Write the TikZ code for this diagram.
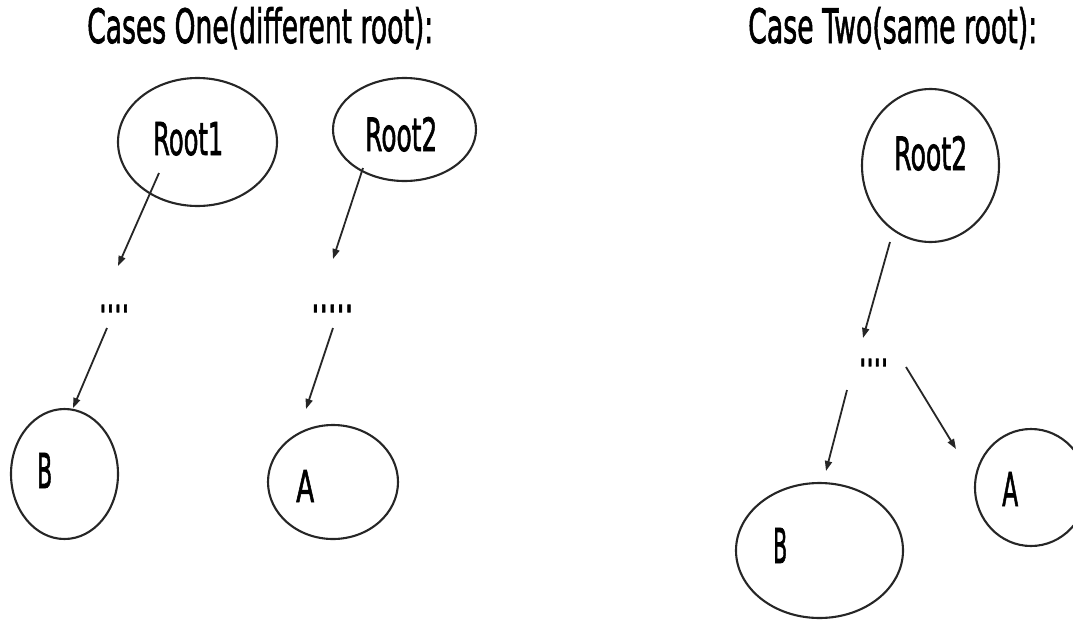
\documentclass[tikz,border=0pt]{standalone}
\usepackage{fontspec}
\usepackage{graphicx}
\usetikzlibrary{shapes.geometric,arrows.meta}
\newfontfamily\dejavu[FakeBold=1.8]{DejaVu Sans}
% squeeze a piece of text into a box of given width and height (above baseline)
\newcommand{\fitto}[3]{\resizebox{#1pt}{#2pt}{\dejavu #3}}
\tikzset{
  bubble/.style={draw=black!85, line width=2.1pt, ellipse, inner sep=0pt},
  arr/.style={draw=black!85, line width=1.8pt, -{Triangle[length=10pt,width=7pt]}},
  lbl/.style={anchor=base west, inner sep=0pt, text=black},
}
\begin{document}
\begin{tikzpicture}[x=1pt, y=-1pt]
\useasboundingbox (0,0) rectangle (1073,621);
\begin{scope}
\clip (0,0) rectangle (1073,621);

% headings
\node[lbl] (title1) at (87,43) {\fitto{346}{36}{Cases One(different root):}};
\node[lbl] (title2) at (748,43) {\fitto{289}{36}{Case Two(same root):}};

% case one: two separate trees
\node[bubble, minimum width=159pt, minimum height=128pt] (root1) at (197.5,142) {};
\node[bubble, minimum width=143pt, minimum height=103pt] (root2a) at (404.5,129.5) {};
\node[bubble, minimum width=107pt, minimum height=130pt] (bA) at (64.5,474) {};
\node[bubble, minimum width=130pt, minimum height=114pt] (aA) at (333,482) {};

\node[lbl] (root1txt) at (153,155) {\fitto{70}{33}{Root1}};
\node[lbl] (root2atxt) at (365,151) {\fitto{72}{34}{Root2}};
\node[lbl] (bAtxt) at (37,488) {\fitto{15}{35}{B}};
\node[lbl] (aAtxt) at (296,502) {\fitto{18}{32}{A}};

\node[lbl] (dots1) at (99,312) {\fitto{30}{7}{....}};
\node[lbl] (dots2) at (311,312) {\fitto{42}{7}{.....}};

% case two: one shared tree
\node[bubble, minimum width=137pt, minimum height=153pt] (root2b) at (930.5,165.5) {};
\node[bubble, minimum width=167pt, minimum height=135pt] (bB) at (819.5,550.5) {};
\node[bubble, minimum width=112pt, minimum height=117pt] (aB) at (1031,487.5) {};

\node[lbl] (root2btxt) at (894,170) {\fitto{73}{34}{Root2}};
\node[lbl] (bBtxt) at (773,563) {\fitto{14}{35}{B}};
\node[lbl] (aBtxt) at (1002,506) {\fitto{16}{34}{A}};

\node[lbl] (dots3) at (859,366) {\fitto{29}{7}{....}};
\end{scope}

% arrow ends
\coordinate (p1) at (159,173);  \coordinate (q1) at (118,266);
\coordinate (p2) at (363,168);  \coordinate (q2) at (333,259);
\coordinate (p3) at (107,328);  \coordinate (q3) at (73,408);
\coordinate (p4) at (333,328);  \coordinate (q4) at (306,409);
\coordinate (p5) at (890,242);  \coordinate (q5) at (863,338);
\coordinate (p6) at (847,390);  \coordinate (q6) at (826,471);
\coordinate (p7) at (906,367);  \coordinate (q7) at (956,449);

\draw[arr] (p1) -- (q1);
\draw[arr] (p2) -- (q2);
\draw[arr] (p3) -- (q3);
\draw[arr] (p4) -- (q4);
\draw[arr] (p5) -- (q5);
\draw[arr] (p6) -- (q6);
\draw[arr] (p7) -- (q7);
\end{tikzpicture}
\end{document}
